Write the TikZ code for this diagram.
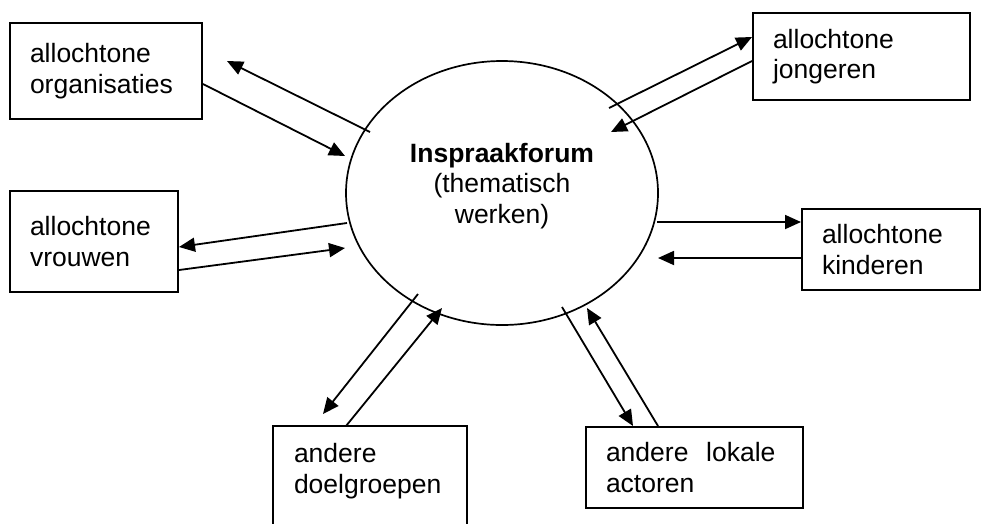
\documentclass[tikz,border=0pt]{standalone}
\usepackage{fontspec}
\setmainfont{Liberation Sans}
\usetikzlibrary{arrows.meta,shapes.geometric}
\tikzset{
  box/.style={draw,line width=2pt,inner xsep=20pt,inner ysep=0pt,align=left,
    text width=#1-40pt,minimum width=#1},
  forum/.style={draw,ellipse,line width=1.7pt,minimum width=312pt,minimum height=264pt},
  arr/.style={line width=1.8pt,-{Triangle[length=16pt,width=14pt]}}
}
\begin{document}
\begin{tikzpicture}[x=1pt,y=-1pt,font=\fontsize{26.5}{30.7}\selectfont]
     \useasboundingbox (0,0) rectangle (981,523);
     \clip (0,0) rectangle (981,523);
     \node[forum] (forum) at (502,193) {};
     \node[align=center] (forumtext) at (502,186) {\textbf{Inspraakforum}\\(thematisch\\werken)};
     \node[box=192pt,minimum height=96pt]  (org)   at (106,71)    {allochtone\\organisaties};
     \node[box=217pt,minimum height=87pt]  (jong)  at (861.5,56.5) {allochtone\\jongeren};
     \node[box=168pt,minimum height=101pt] (vrouw) at (94,241.5)  {allochtone\\vrouwen};
     \node[box=178pt,minimum height=81pt]  (kind)  at (891,249.5) {allochtone\\kinderen};
     \node[box=192pt,minimum height=88pt,draw=none] (doel) at (370,471) {andere\\doelgroepen};
     \draw[line width=2pt] ([yshift=-40pt]doel.south west) -- (doel.north west) -- (doel.north east) -- ([yshift=-40pt]doel.south east);
     \node[box=217pt,minimum height=81pt]  (act)   at (694.5,467.5) {andere\ \ lokale\\actoren};
     \coordinate (o1) at (370,132);  \coordinate (o1tip) at (227,61);  \coordinate (o2tip) at (345,156);
     \coordinate (j1) at (609,108);  \coordinate (j2tip) at (611,132);
     \coordinate (v1) at (347,223);  \coordinate (v2tip) at (345,248);
     \coordinate (k1) at (657,222);  \coordinate (k2tip) at (658,258);
     \coordinate (d1) at (418,294);  \coordinate (d1tip) at (323,414); \coordinate (d2tip) at (442,308);
     \coordinate (a1) at (562,307);  \coordinate (a2tip) at (587,308);
     \draw[arr] (o1) -- (o1tip);
     \draw[arr] ([yshift=-13pt]org.east) -- (o2tip);
     \draw[arr] (j1) -- ([yshift=19.5pt]jong.west);
     \draw[arr] ([yshift=-4.5pt]jong.west) -- (j2tip);
     \draw[arr] (v1) -- ([yshift=-5.5pt]vrouw.east);
     \draw[arr] ([yshift=-28.5pt]vrouw.east) -- (v2tip);
     \draw[arr] (k1) -- ([yshift=27.5pt]kind.west);
     \draw[arr] ([yshift=-8.5pt]kind.west) -- (k2tip);
     \draw[arr] (d1) -- (d1tip);
     \draw[arr] ([xshift=-24pt]doel.north) -- (d2tip);
     \draw[arr] (a1) -- ([xshift=-61.5pt]act.north);
     \draw[arr] ([xshift=-36.5pt]act.north) -- (a2tip);
\end{tikzpicture}
\end{document}
